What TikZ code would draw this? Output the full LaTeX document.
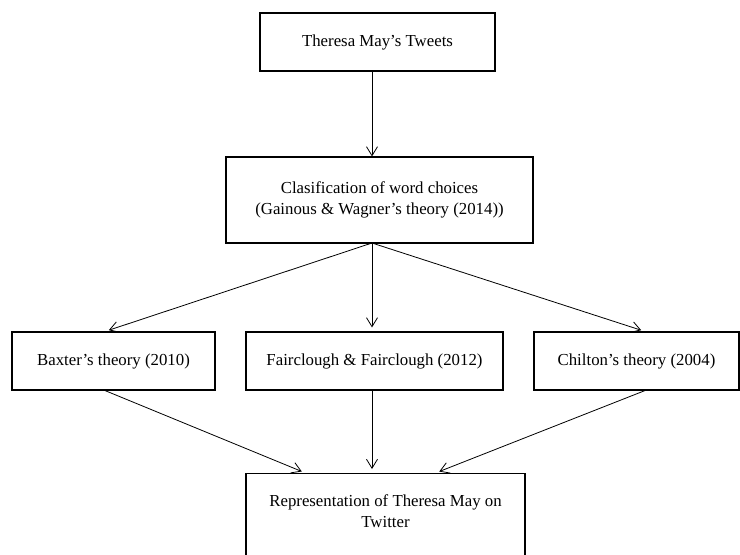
\documentclass[tikz,border=0pt]{standalone}
\usepackage{fontspec}
\setmainfont{Liberation Serif}
\usetikzlibrary{arrows.meta}

\begin{document}
\begin{tikzpicture}[x=1pt,y=-1pt,
    box/.style={draw,line width=1.1pt,align=center,inner sep=0pt,
                font=\fontsize{16.8}{21}\selectfont},
    link/.style={-{Straight Barb[length=9pt,width=11pt]},line width=.8pt,shorten >=4pt}]
  \useasboundingbox (0,0) rectangle (740,555);
  \clip (0,0) rectangle (740,555);
  \node[box,minimum width=235,minimum height=58] (tweets) at (377.5,42) {Theresa May's Tweets};
  \node[box,minimum width=307,minimum height=86] (wordchoice) at (379.5,200)
       {Clasification of word choices\\(Gainous \& Wagner's theory (2014))};
  \node[box,minimum width=203,minimum height=58] (baxter) at (113.5,361) {Baxter's theory (2010)};
  \node[box,minimum width=257,minimum height=58] (fairclough) at (374.5,361) {Fairclough \& Fairclough (2012)};
  \node[box,minimum width=205,minimum height=58] (chilton) at (636.5,361) {Chilton's theory (2004)};
  \node[box,anchor=north,minimum width=279,inner ysep=21,text depth=60] (representation) at (385.5,473)
       {Representation of Theresa May on\\Twitter};
  \coordinate (split) at (372,243);
  \draw[link,shorten >=0pt] (tweets.south -| split) -- (wordchoice.north -| split);
  \draw[link] (split) -- ([xshift=-8.5]baxter.north);
  \draw[link] (split) -- (fairclough.north -| split);
  \draw[link] (split) -- ([xshift=8.5]chilton.north);
  \draw[link] ([xshift=-8.5]baxter.south) -- ([xshift=-80]representation.north);
  \draw[link] (fairclough.south -| split) -- (representation.north -| split);
  \draw[link] ([xshift=8.5]chilton.south) -- ([xshift=50]representation.north);
\end{tikzpicture}
\end{document}
